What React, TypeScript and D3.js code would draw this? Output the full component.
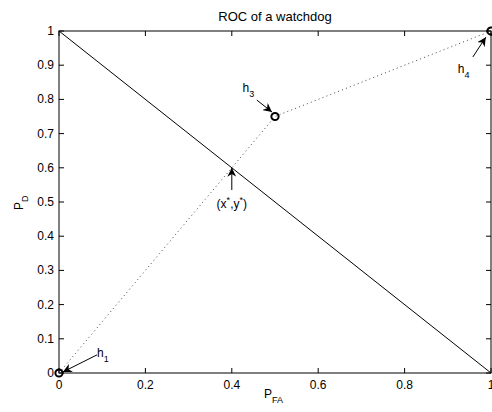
import React from "react";
import * as d3 from "d3";

// ROC curve points of the watchdog (dotted), and the chance diagonal (solid)
const rocX = [0, 0.5, 1];
const rocY = [0, 0.75, 1];
const diagX = [0, 1];
const diagY = [1, 0];

const xTicks = [0, 0.2, 0.4, 0.6, 0.8, 1];
const yTicks = [0, 0.1, 0.2, 0.3, 0.4, 0.5, 0.6, 0.7, 0.8, 0.9, 1];

// Annotation labels: name, subscript, text position, arrow tail, arrow tip
const annLabel = ["h", "h", "h", "(x,y)"];
const annSub = ["1", "3", "4", ""];
const annTextX = [0.088, 0.425, 0.923, 0.4];
const annTextY = [0.046, 0.822, 0.877, 0.482];
const annTailX = [0.088, 0.458, 0.958, 0.4];
const annTailY = [0.053, 0.798, 0.924, 0.535];
const annTipX = [0.009, 0.493, 0.988, 0.4];
const annTipY = [0.003, 0.763, 0.982, 0.6];

const W = 492;
const H = 412;
const M = { left: 59, right: 1, top: 31, bottom: 39 };
const FONT = "'Liberation Sans', Arial, Helvetica, sans-serif";
const FS = 12;
const SUB = 9;

export default function App() {
  const x = d3.scaleLinear().domain([0, 1]).range([M.left, W - M.right]);
  const y = d3.scaleLinear().domain([0, 1]).range([H - M.bottom, M.top]);
  const line = d3
    .line<[number, number]>()
    .x((d) => x(d[0]))
    .y((d) => y(d[1]));

  const roc = rocX.map((v, i) => [v, rocY[i]] as [number, number]);
  const diag = diagX.map((v, i) => [v, diagY[i]] as [number, number]);
  const tick = 5;

  return (
    <svg
      width={W}
      height={H}
      style={{ position: "absolute", left: 0, top: 0, background: "#fff" }}
      fontFamily={FONT}
    >
      <defs>
        <marker
          id="ah"
          viewBox="0 0 10 10"
          refX="10"
          refY="5"
          markerWidth="9"
          markerHeight="9"
          markerUnits="userSpaceOnUse"
          orient="auto"
        >
          <path d="M0,0 L10,5 L0,10 L3,5 Z" fill="#000" />
        </marker>
      </defs>

      {/* title */}
      <text x={(x(0) + x(1)) / 2} y={21} fontSize={13} textAnchor="middle">
        ROC of a watchdog
      </text>

      {/* box */}
      <rect
        x={x(0)}
        y={y(1)}
        width={x(1) - x(0)}
        height={y(0) - y(1)}
        fill="none"
        stroke="#000"
        strokeWidth={1}
      />

      {/* ticks and tick labels */}
      {xTicks.map((t) => (
        <g key={"x" + t}>
          <line x1={x(t)} x2={x(t)} y1={y(0)} y2={y(0) - tick} stroke="#000" />
          <line x1={x(t)} x2={x(t)} y1={y(1)} y2={y(1) + tick} stroke="#000" />
          <text x={x(t)} y={y(0) + 16} fontSize={FS} textAnchor="middle">
            {d3.format("~g")(t)}
          </text>
        </g>
      ))}
      {yTicks.map((t) => (
        <g key={"y" + t}>
          <line x1={x(0)} x2={x(0) + tick} y1={y(t)} y2={y(t)} stroke="#000" />
          <line x1={x(1)} x2={x(1) - tick} y1={y(t)} y2={y(t)} stroke="#000" />
          <text x={x(0) - 5} y={y(t) + 4} fontSize={FS} textAnchor="end">
            {d3.format("~g")(t)}
          </text>
        </g>
      ))}

      {/* axis labels */}
      <text x={264} y={398} fontSize={FS}>
        P
        <tspan fontSize={SUB} dy={5}>
          FA
        </tspan>
      </text>
      <text transform="translate(23,210) rotate(-90)" fontSize={FS}>
        P
        <tspan fontSize={SUB} dy={5}>
          D
        </tspan>
      </text>

      {/* chance diagonal */}
      <path d={line(diag) ?? ""} fill="none" stroke="#000" strokeWidth={1} />

      {/* ROC curve */}
      <path
        d={line(roc) ?? ""}
        fill="none"
        stroke="#444"
        strokeWidth={1}
        strokeDasharray="1,3.2"
      />
      {roc.map((d, i) => (
        <circle
          key={"m" + i}
          cx={x(d[0])}
          cy={y(d[1])}
          r={3.6}
          fill="none"
          stroke="#000"
          strokeWidth={2}
        />
      ))}

      {/* annotations */}
      {annLabel.map((lab, i) => (
        <g key={"a" + i}>
          <line
            x1={x(annTailX[i])}
            y1={y(annTailY[i])}
            x2={x(annTipX[i])}
            y2={y(annTipY[i])}
            stroke="#000"
            strokeWidth={1}
            markerEnd="url(#ah)"
          />
          {lab === "(x,y)" ? (
            <text
              x={x(annTextX[i])}
              y={y(annTextY[i])}
              fontSize={FS}
              textAnchor="middle"
            >
              (x
              <tspan fontSize={SUB} dy={-5}>
                *
              </tspan>
              <tspan dy={5}>,y</tspan>
              <tspan fontSize={SUB} dy={-5}>
                *
              </tspan>
              <tspan dy={5}>)</tspan>
            </text>
          ) : (
            <text x={x(annTextX[i])} y={y(annTextY[i])} fontSize={FS}>
              {lab}
              <tspan fontSize={SUB} dy={5}>
                {annSub[i]}
              </tspan>
            </text>
          )}
        </g>
      ))}
    </svg>
  );
}
